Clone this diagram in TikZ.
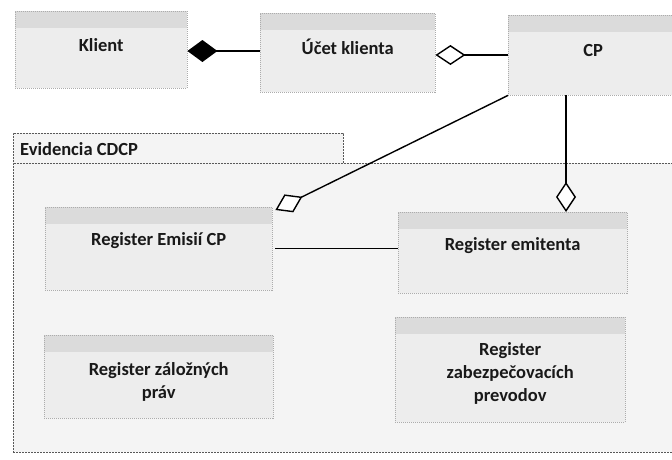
\documentclass[tikz,border=0pt]{standalone}
\usepackage{fontspec}
\setmainfont{Carlito}
\usetikzlibrary{arrows.meta,calc}
\begin{document}
\begin{tikzpicture}[x=1pt,y=-1pt,
  txt/.style={font=\fontsize{18.5}{23}\selectfont\bfseries, text=black!90, align=center, inner sep=0pt},
  umlbox/.style={draw=gray!65, dash pattern=on 1pt off 1pt, fill=gray!14, anchor=north west, inner sep=0pt,
    path picture={\fill[gray!28] (path picture bounding box.north west) rectangle ([yshift=-17pt]path picture bounding box.north east);}},
  pkgpart/.style={draw=gray!70!black, dash pattern=on 2pt off 1pt, fill=gray!9, anchor=north west, inner sep=0pt},
  conn/.style={draw=black, line width=1.4pt},
  compo/.style={conn, -{Diamond[length=30pt,width=22pt,fill=black]}},
  aggr/.style={conn, -{Diamond[open,length=30pt,width=20pt,fill=white]}}
]
\useasboundingbox (0,0) rectangle (672,459);
\clip (0,0) rectangle (672,459);

% package Evidencia CDCP: tab and body
\node[pkgpart, minimum width=330, minimum height=30,
  label={[txt, anchor=west, xshift=7pt, yshift=-1pt]west:Evidencia CDCP}] (tab) at (13,133) {};
\node[pkgpart, minimum width=700, minimum height=289] (pkg) at (13,163) {};
\fill[gray!9] ([xshift=1pt]tab.south west) rectangle ([xshift=-1pt,yshift=1pt]tab.south east);

% top-level classes
\node[umlbox, minimum width=172, minimum height=77,
  label={[txt, yshift=5pt]center:Klient}] (klient) at (15,11) {};
\node[umlbox, minimum width=175, minimum height=79,
  label={[txt, yshift=6pt]center:Účet klienta}] (ucet) at (260,13) {};
\node[umlbox, minimum width=170, minimum height=80,
  label={[txt, yshift=5pt]center:CP}] (cp) at (508,15) {};

% registers inside the package
\node[umlbox, minimum width=227, minimum height=83,
  label={[txt, yshift=8pt]center:Register Emisií CP}] (reg1) at (45,207) {};
\node[umlbox, minimum width=229, minimum height=81,
  label={[txt, yshift=7pt]center:Register emitenta}] (emit) at (398,212) {};
\node[umlbox, minimum width=229, minimum height=83,
  label={[txt, yshift=-5pt]center:Register záložných\\práv}] (zaloz) at (44,335) {};
\node[umlbox, minimum width=230, minimum height=105,
  label={[txt, yshift=-4pt]center:Register\\zabezpečovacích\\prevodov}] (zabez) at (395,317) {};

% associations
\draw[compo] (ucet.west |- 0,51) coordinate (ucetin) -- (ucetin -| klient.east);
\draw[aggr] (cp.west |- 0,55) coordinate (cpin) -- (cpin -| ucet.east);
\draw[aggr] (cp.south west) -- ([xshift=3pt,yshift=-3pt]reg1.north east);
\path (cp.south west) ++(58,0) coordinate (cpfoot);
\draw[aggr] (cpfoot) -- (cpfoot |- emit.north);
\draw[conn, line width=1.2pt] ([xshift=3pt]reg1.east) -- (reg1.east -| emit.west);
\end{tikzpicture}
\end{document}
